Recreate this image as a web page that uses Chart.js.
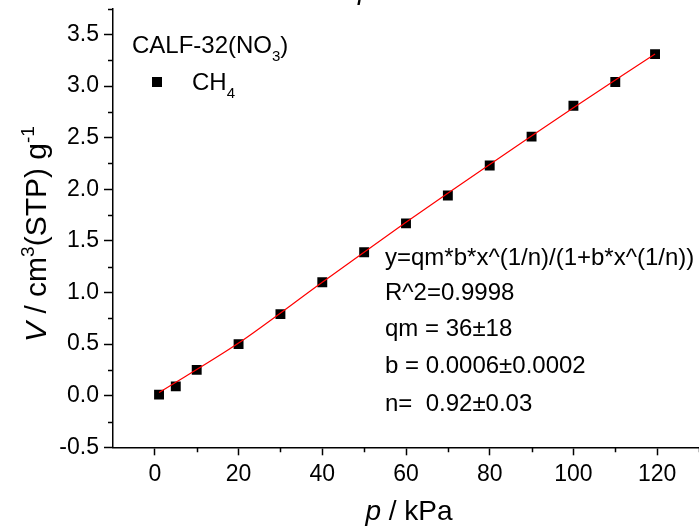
<!DOCTYPE html>
<html>
<head>
<meta charset="utf-8">
<script src="https://cdn.jsdelivr.net/npm/chart.js@4"></script>
<style>
  html, body { margin: 0; padding: 0; background: #fff; overflow: hidden; }
  #wrap { position: relative; width: 706px; height: 530px; }
</style>
</head>
<body>
<div id="wrap"><canvas id="isotherm"></canvas></div>
<script>
// CH4 isotherm
const pressure = [1, 5, 10, 20, 30, 40, 50, 60, 70, 80, 90, 100, 110, 119.5];
const uptake = [0.01, 0.09, 0.25, 0.50, 0.79, 1.10, 1.39, 1.67, 1.94, 2.23, 2.51, 2.81, 3.04, 3.31];

// red fit curve, sampled along the drawn line
const fitPressure = [1, 20, 40, 60, 80, 100, 119.5];
const fitUptake = [0.03, 0.51, 1.10, 1.68, 2.24, 2.79, 3.31];

const xTicks = [0, 20, 40, 60, 80, 100, 120];
const yTicks = [-0.5, 0.0, 0.5, 1.0, 1.5, 2.0, 2.5, 3.0, 3.5];

const fitLines = [
    'y=qm*b*x^(1/n)/(1+b*x^(1/n))',
    'R^2=0.9998',
    'qm = 36\u00b118',
    'b = 0.0006\u00b10.0002',
    'n=  0.92\u00b10.03'
];

const FONT = '"Liberation Sans", Arial, sans-serif';
Chart.defaults.font.family = FONT;
Chart.defaults.color = '#000';

function isMajorX(v) { return xTicks.some(t => Math.abs(t - v) < 1e-6); }
function isMajorY(v) { return yTicks.some(t => Math.abs(t - v) < 1e-6); }

// minor ticks, titles, legend and fit text
const extras = {
    id: 'extras',
    afterDraw(chart) {
        const ctx = chart.ctx;
        const xs = chart.scales.x, ys = chart.scales.y;
        ctx.save();
        ctx.strokeStyle = '#000';
        ctx.lineWidth = 1.5;
        ctx.beginPath();
        xs.ticks.forEach(t => {
            if (isMajorX(t.value) || t.value <= xs.min) return;
            const px = Math.round(xs.getPixelForValue(t.value)) + 0.5;
            ctx.moveTo(px, xs.top);
            ctx.lineTo(px, xs.top + 5);
        });
        ys.ticks.forEach(t => {
            if (isMajorY(t.value) || t.value <= ys.min) return;
            const py = Math.round(ys.getPixelForValue(t.value)) + 0.5;
            ctx.moveTo(ys.right, py);
            ctx.lineTo(ys.right - 5, py);
        });
        ctx.stroke();

        ctx.fillStyle = '#000';
        ctx.textBaseline = 'alphabetic';

        // cut-off title at the very top
        ctx.font = 'italic 28px ' + FONT;
        ctx.fillText('p', 358, -1);

        // x title
        const xParts = [['italic 28px ' + FONT, 'p', 0], ['28px ' + FONT, ' / kPa', 0]];
        drawParts(ctx, xParts, 409, 520);

        // y title
        ctx.save();
        ctx.translate(46, 234);
        ctx.rotate(-Math.PI / 2);
        const yParts = [
            ['italic 30px ' + FONT, 'V', 0],
            ['30px ' + FONT, ' / cm', 0],
            ['19px ' + FONT, '3', -12],
            ['30px ' + FONT, '(STP) g', 0],
            ['19px ' + FONT, '-1', -12]
        ];
        drawParts(ctx, yParts, 0, 0);
        ctx.restore();

        // legend
        drawParts(ctx, [['24px ' + FONT, 'CALF-32(NO', 0], ['15px ' + FONT, '3', 8], ['24px ' + FONT, ')', 0]], null, 53, 132);
        ctx.fillRect(152, 77, 10, 10);
        drawParts(ctx, [['24px ' + FONT, 'CH', 0], ['15px ' + FONT, '4', 8]], null, 90, 192);

        // fit parameters
        ctx.font = '24px ' + FONT;
        const baselines = [265, 300, 336, 373, 411];
        fitLines.forEach((s, i) => ctx.fillText(s, 385, baselines[i]));
        ctx.restore();
    }
};

// draws runs of text with different fonts; centred on cx, or starting at left
function drawParts(ctx, parts, cx, baseY, left) {
    let total = 0;
    parts.forEach(p => { ctx.font = p[0]; total += ctx.measureText(p[1]).width; });
    let x = (cx !== null) ? cx - total / 2 : left;
    ctx.textAlign = 'left';
    parts.forEach(p => {
        ctx.font = p[0];
        ctx.fillText(p[1], x, baseY + p[2]);
        x += ctx.measureText(p[1]).width;
    });
}

const canvas = document.getElementById('isotherm');
new Chart(canvas.getContext('2d'), {
    type: 'scatter',
    data: {
        datasets: [{
            type: 'line',
            label: 'fit',
            data: fitPressure.map((p, i) => ({ x: p, y: fitUptake[i] })),
            borderColor: '#ff0000',
            borderWidth: 1.2,
            pointRadius: 0,
            fill: false,
            tension: 0.3
        }, {
            label: 'CH4',
            data: pressure.map((p, i) => ({ x: p, y: uptake[i] })),
            pointStyle: 'rect',
            pointRadius: 7,
            backgroundColor: '#000',
            borderColor: '#000',
            borderWidth: 0
        }]
    },
    options: {
        responsive: true,
        maintainAspectRatio: false,
        animation: false,
        layout: { padding: { top: 8.7, right: 1.5, left: 0, bottom: 0 } },
        plugins: { legend: { display: false }, tooltip: { enabled: false } },
        scales: {
            x: {
                type: 'linear',
                min: -10,
                max: 130,
                afterFit: s => { s.height = 82.7; s.paddingLeft = 0; s.paddingRight = 0; },
                border: { display: true, color: '#000', width: 1.5 },
                grid: {
                    drawOnChartArea: false,
                    drawTicks: true,
                    tickLength: 8,
                    tickWidth: 1.5,
                    tickColor: c => (c.tick && isMajorX(c.tick.value)) ? '#000' : 'rgba(0,0,0,0)'
                },
                ticks: {
                    stepSize: 10,
                    autoSkip: false,
                    maxRotation: 0,
                    padding: 6,
                    font: { size: 23 },
                    callback: v => isMajorX(v) ? String(Math.round(v)) : ''
                }
            },
            y: {
                type: 'linear',
                min: -0.5,
                max: 3.75,
                afterFit: s => { s.width = 113; s.paddingTop = 0; s.paddingBottom = 0; },
                border: { display: true, color: '#000', width: 1.5 },
                grid: {
                    drawOnChartArea: false,
                    drawTicks: true,
                    tickLength: 9,
                    tickWidth: 1.5,
                    tickColor: c => (c.tick && isMajorY(c.tick.value)) ? '#000' : 'rgba(0,0,0,0)'
                },
                ticks: {
                    stepSize: 0.25,
                    autoSkip: false,
                    padding: 5,
                    font: { size: 23 },
                    callback: v => isMajorY(v) ? v.toFixed(1) : ''
                }
            }
        }
    },
    plugins: [extras]
});
</script>
</body>
</html>
